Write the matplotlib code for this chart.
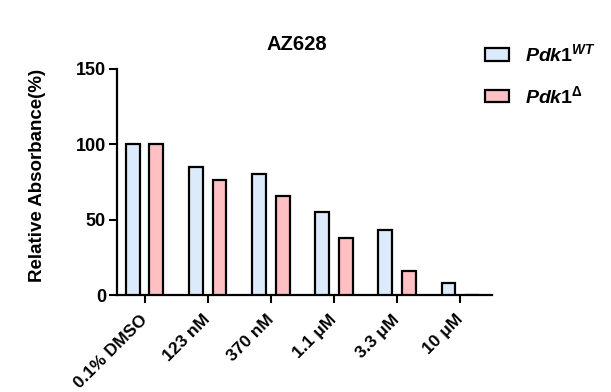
import numpy as np
import matplotlib.pyplot as plt

plt.rcParams['font.family'] = ['Liberation Sans', 'DejaVu Sans']
plt.rcParams['font.weight'] = 'bold'
plt.rcParams['mathtext.fontset'] = 'custom'
plt.rcParams['mathtext.it'] = 'Liberation Sans:italic:bold'
plt.rcParams['mathtext.rm'] = 'Liberation Sans:bold'
plt.rcParams['mathtext.bf'] = 'Liberation Sans:bold'

# values
doses = ['0.1% DMSO', '123 nM', '370 nM', '1.1 μM', '3.3 μM', '10 μM']
wt = [100, 85, 80, 55, 43, 8]
delta = [100, 76, 66, 38, 16, 0]
yticks = [0, 50, 100, 150]

fig = plt.figure(figsize=(6.11, 3.92), dpi=100)
ax = fig.add_axes([0.1915, 0.2474, 0.6132, 0.5766])

x = np.arange(len(doses))
off = 0.185
w = 0.22
ax.bar(x - off, wt, w, color='#DCEBFB', edgecolor='black', linewidth=1.6,
       label=r'$Pdk1^{WT}$', zorder=3)
ax.bar(x + off, delta, w, color='#FFC0C4', edgecolor='black', linewidth=1.6,
       label=r'$Pdk1^{\Delta}$', zorder=3)

ax.set_xlim(-0.44, 5.5)
ax.set_ylim(0, 150)
ax.set_yticks(yticks)
ax.set_xticks(x)
ax.set_xticklabels(doses, rotation=45, ha='right', va='center',
                   rotation_mode='anchor', fontsize=12.5, fontweight='bold')
ax.tick_params(axis='x', pad=10)
ax.tick_params(axis='y', labelsize=13, pad=2)
ax.tick_params(width=1.5, length=6, direction='out')
for t in ax.get_yticklabels():
    t.set_fontweight('bold')

for s in ['top', 'right']:
    ax.spines[s].set_visible(False)
for s in ['left', 'bottom']:
    ax.spines[s].set_linewidth(1.6)

ax.set_ylabel('Relative Absorbance(%)', fontsize=13.5, fontweight='bold')
ax.yaxis.set_label_coords(-0.19, 0.53)
ax.set_title('AZ628', fontsize=14.5, fontweight='bold', pad=14, x=0.48)

leg = ax.legend(loc='upper left', bbox_to_anchor=(0.935, 1.19), frameon=False,
                fontsize=14, handlelength=1.25, handleheight=0.6,
                labelspacing=1.0, handletextpad=0.8)

fig.savefig('out.png', dpi=100)
